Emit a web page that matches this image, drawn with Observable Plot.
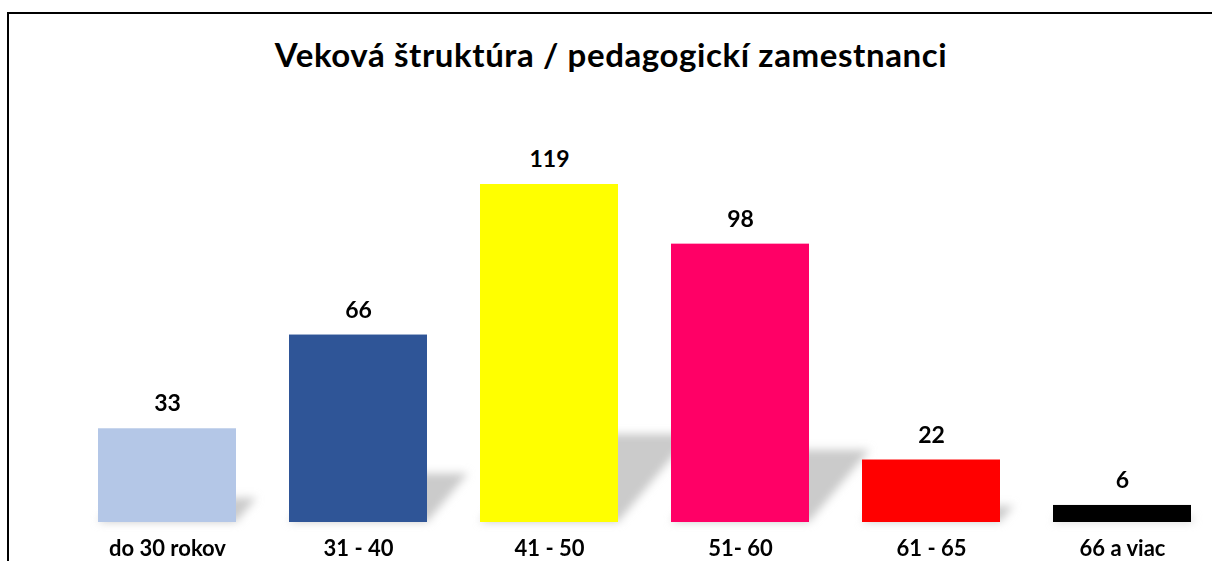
<!DOCTYPE html>
<html><head><meta charset="utf-8">
<script src="https://cdn.jsdelivr.net/npm/d3@7"></script>
<script src="https://cdn.jsdelivr.net/npm/@observablehq/plot@0.6"></script>
<style>
html,body{margin:0;padding:0;background:#fff;}
body{width:1212px;height:561px;overflow:hidden;position:relative;font-family:Lato,"Open Sans",sans-serif;}
#frame{position:absolute;left:7px;top:12px;width:1300px;height:700px;border-left:2px solid #000;border-top:2px solid #000;box-sizing:border-box;}
#title{position:absolute;left:0;top:32px;width:1222px;text-align:center;font-weight:700;font-size:33px;letter-spacing:0.6px;line-height:44px;color:#000;font-family:Lato,sans-serif;white-space:nowrap;}
#chart{position:absolute;left:0;top:100px;}
</style></head><body>
<div id="frame"></div>
<div id="title">Veková štruktúra / pedagogickí zamestnanci</div>
<div id="chart"></div>
<script>
const categories = ["do 30 rokov", "31 - 40", "41 - 50", "51- 60", "61 - 65", "66 a viac"];
const values = [33, 66, 119, 98, 22, 6];
const colors = ["#B4C7E7", "#2F5597", "#FFFF00", "#FF0066", "#FF0000", "#000000"];

const data = categories.map((c, i) => ({category: c, value: values[i]}));
const shadowRatio = 0.26;

const plot = Plot.plot({
  width: 1212, height: 461,
  marginTop: 0, marginBottom: 39, marginLeft: 0, marginRight: 0,
  style: {fontFamily: "Lato, sans-serif", background: "transparent", overflow: "visible", color: "#000"},
  x: {domain: categories, range: [71.2, 1217.2], paddingInner: 0.277, paddingOuter: 0.1385, axis: null},
  y: {domain: [0, d3.max(values)], range: [422, 84], axis: null},
  color: {domain: categories, range: colors},
  marks: [
    Plot.barY(data, {x: "category", y: d => d.value * shadowRatio, fill: "#cbcbcb"}),
    Plot.barY(data, {x: "category", y: "value", fill: "category"}),
    Plot.text(data, {x: "category", y: "value", text: d => String(d.value), dy: -17.5, lineAnchor: "bottom", fontSize: 23, fontWeight: 700, fill: "#000"}),
    Plot.text(data, {x: "category", text: "category", frameAnchor: "bottom", lineAnchor: "bottom", dy: 33, fontSize: 22, fontWeight: 700, fill: "#000"})
  ]
});

// soft perspective shadow behind the bars
const baseY = plot.scale("y").apply(0);
const ns = "http://www.w3.org/2000/svg";
const defs = document.createElementNS(ns, "defs");
defs.innerHTML = '<filter id="shadowBlur" x="-0.1" y="-0.6" width="1.2" height="2.2"><feGaussianBlur stdDeviation="4.5"/></filter>';
plot.insertBefore(defs, plot.firstChild);
const shadowG = plot.querySelector('g[aria-label="bar"]');
shadowG.setAttribute("filter", "url(#shadowBlur)");
shadowG.querySelectorAll("rect").forEach(r => {
  r.setAttribute("transform", `translate(0,${baseY}) skewX(-40) translate(0,${-baseY})`);
});

document.getElementById("chart").appendChild(plot);
</script>
</body></html>
